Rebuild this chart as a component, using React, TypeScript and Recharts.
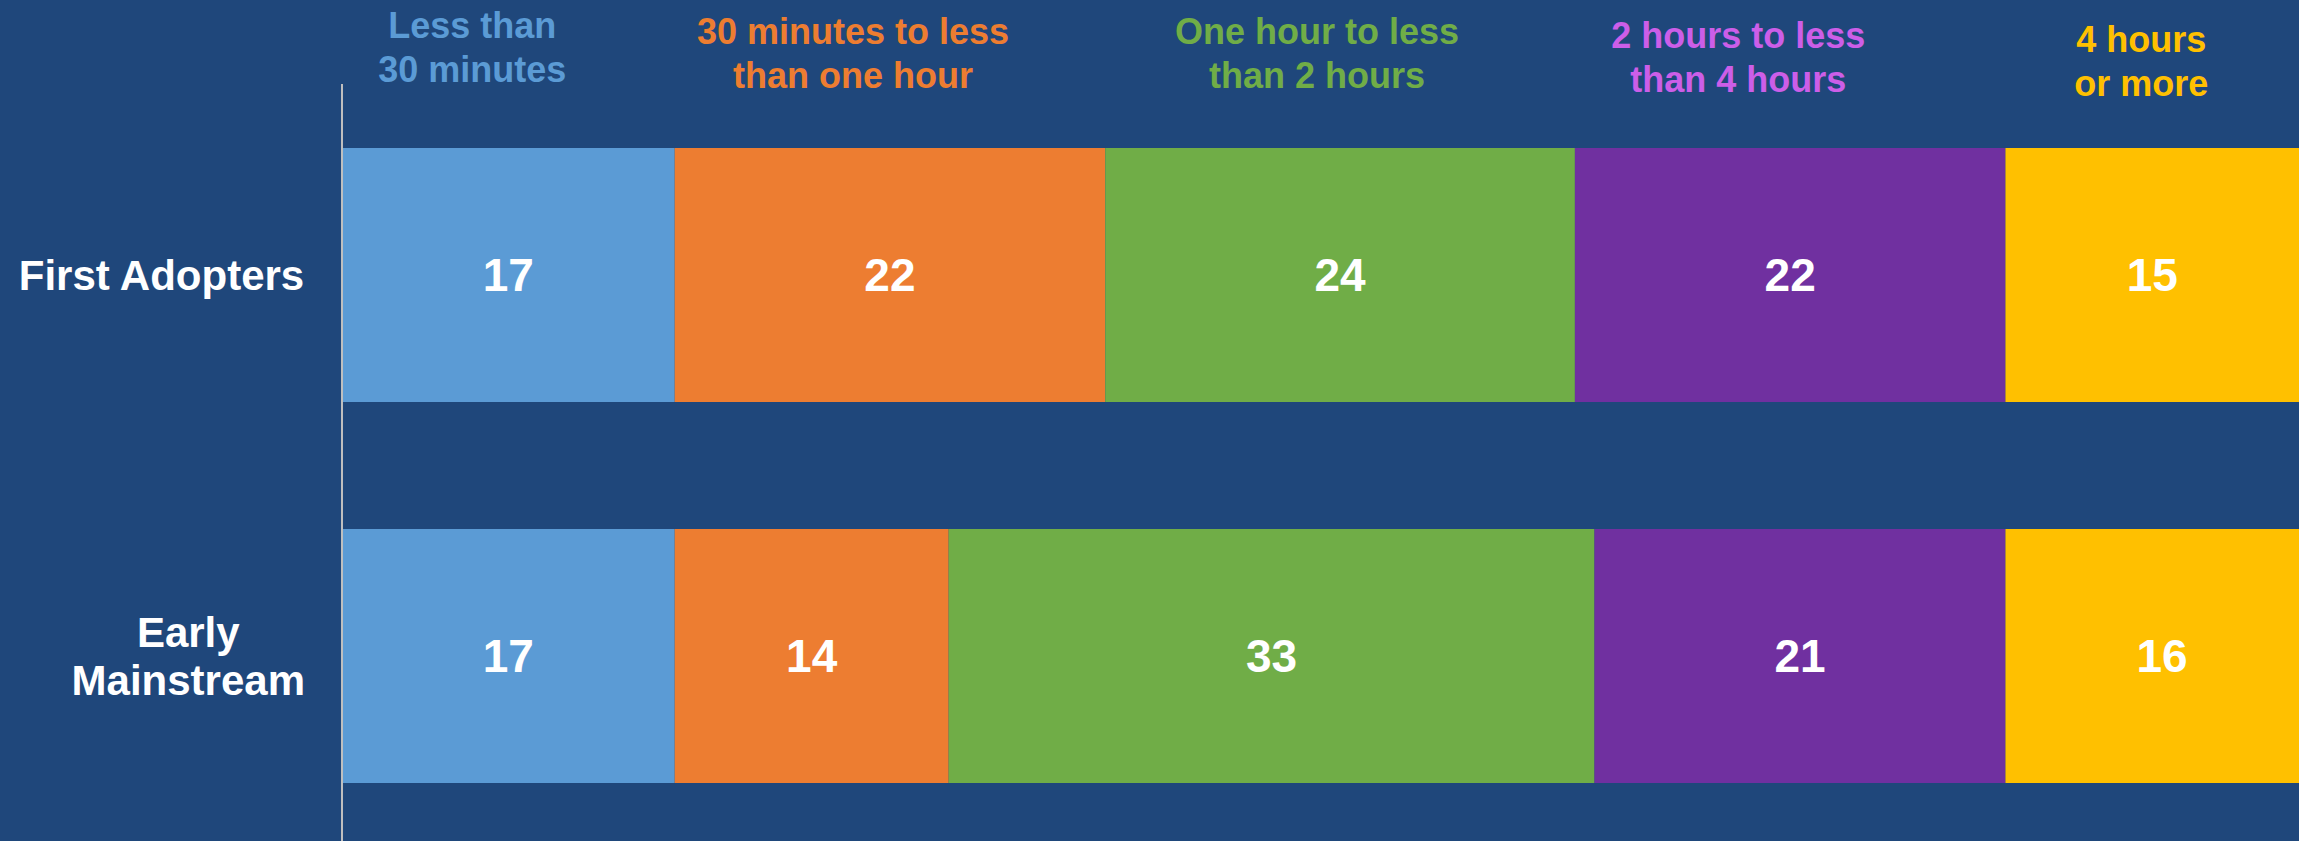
import { BarChart, Bar, XAxis, YAxis, LabelList } from "recharts";

const groups = ["First Adopters", "Early\nMainstream"];
const durations = [
  "Less than\n30 minutes",
  "30 minutes to less\nthan one hour",
  "One hour to less\nthan 2 hours",
  "2 hours to less\nthan 4 hours",
  "4 hours\nor more",
];
const firstAdopters = [17, 22, 24, 22, 15];
const earlyMainstream = [17, 14, 33, 21, 16];

const barColors = ["#5B9BD5", "#ED7D31", "#70AD47", "#7030A0", "#FFC000"];
const headColors = ["#5B9BD5", "#ED7D31", "#70AD47", "#CC5EE8", "#FFC000"];
// hand nudges so the header captions sit like the slide's text boxes
const headDx = [-36, -37, -23, -52, -11];
const headDy = [-7, -1, -1, 3, 7];

const FONT = "'Liberation Sans', Arial, sans-serif";
const BG = "#1F477B";
const W = 2299;
const H = 841;
const AXIS_W = 342;
const MAX = 100;
// px per unit on the value axis (plot runs from AXIS_W to W)
const PPU = (W - AXIS_W) / MAX;

const data = groups.map((g, i) => {
  const row: any = { name: g };
  const vals = i === 0 ? firstAdopters : earlyMainstream;
  durations.forEach((_, k) => (row[`s${k}`] = vals[k]));
  return row;
});

let ctx: CanvasRenderingContext2D | null = null;
const measure = (t: string, size: number) => {
  if (!ctx) ctx = document.createElement("canvas").getContext("2d");
  if (!ctx) return t.length * size * 0.55;
  ctx.font = `bold ${size}px ${FONT}`;
  return ctx.measureText(t).width;
};

const GroupTick = ({ x, y, payload }: any) => {
  const lines = String(payload.value).split("\n");
  const size = 42;
  const w = Math.max(...lines.map((l) => measure(l, size)));
  const lh = 48;
  const y0 = y + 15 - ((lines.length - 1) * lh) / 2;
  return (
    <g>
      {lines.map((l, i) => (
        <text
          key={i}
          x={x - w / 2}
          y={y0 + i * lh}
          textAnchor="middle"
          fill="#FFFFFF"
          fontSize={size}
          fontWeight="bold"
          fontFamily={FONT}
        >
          {l}
        </text>
      ))}
    </g>
  );
};

const valueLabel = (props: any) => {
  const vb = props.viewBox ?? props;
  const { x, y, height } = vb;
  // the last segment runs past the frame, so centre on its full length
  const full = Number(props.value) * PPU;
  return (
    <text
      x={x + full / 2}
      y={y + height / 2 + 16}
      textAnchor="middle"
      fill="#FFFFFF"
      fontSize={46}
      fontWeight="bold"
      fontFamily={FONT}
    >
      {props.value}
    </text>
  );
};

const headerLabel = (k: number) => (props: any) => {
  if (props.index !== 0) return null;
  const vb = props.viewBox ?? props;
  const { x, y, width } = vb;
  const lines = durations[k].split("\n");
  const cx = x + width / 2 + headDx[k];
  const base = y - 103 + headDy[k];
  return (
    <g>
      {lines.map((l, i) => (
        <text
          key={i}
          x={cx}
          y={base + i * 44}
          textAnchor="middle"
          fill={headColors[k]}
          fontSize={36}
          fontWeight="bold"
          fontFamily={FONT}
        >
          {l}
        </text>
      ))}
    </g>
  );
};

export default function App() {
  return (
    <div style={{ position: "fixed", left: 0, top: 0, width: W, height: H, background: BG, overflow: "hidden" }}>
      <BarChart
        width={W}
        height={H}
        data={data}
        layout="vertical"
        margin={{ top: 84, right: 0, bottom: -5, left: 0 }}
      >
        <XAxis type="number" domain={[0, MAX]} allowDataOverflow hide />
        <YAxis
          type="category"
          dataKey="name"
          width={AXIS_W}
          axisLine={{ stroke: "#BFBFBF", strokeWidth: 2 }}
          tickLine={false}
          tickSize={0}
          tickMargin={37}
          tick={<GroupTick />}
          interval={0}
        />
        {durations.map((d, k) => (
          <Bar
            key={d}
            dataKey={`s${k}`}
            name={d}
            stackId="a"
            fill={barColors[k]}
            barSize={254}
            isAnimationActive={false}
          >
            <LabelList dataKey={`s${k}`} content={valueLabel} />
            <LabelList dataKey={`s${k}`} content={headerLabel(k)} />
          </Bar>
        ))}
      </BarChart>
    </div>
  );
}
